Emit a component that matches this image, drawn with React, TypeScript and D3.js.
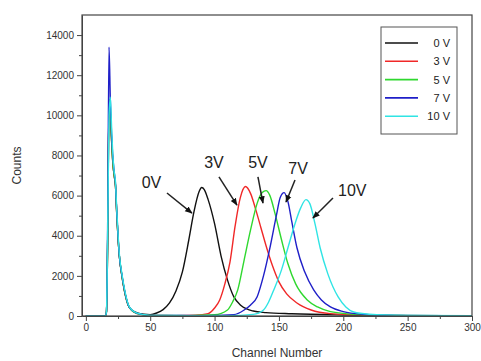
import React, { useEffect, useRef } from "react";
import * as d3 from "d3";

// [channel, counts]
const series0V: [number, number][] = [
  [0, 0], [15, 0], [16, 200], [17, 4000], [18, 10800], [19, 10200], [20, 8800], [21, 7600], [22, 7000],
  [23, 6500], [24, 5100], [25, 3900], [26, 3000], [28, 2000], [30, 1250], [33, 520], [36, 280], [40, 160],
  [45, 90], [50, 70], [55, 150], [60, 320], [65, 650], [70, 1250], [75, 2200], [80, 3800], [84, 5200],
  [88, 6200], [90, 6400], [92, 6300], [95, 5800], [100, 4600], [105, 3000], [110, 1800], [115, 950],
  [120, 550], [125, 350], [130, 250], [140, 170], [160, 110], [200, 50], [250, 20], [300, 10],
];

const series3V: [number, number][] = [
  [0, 0], [15, 0], [16, 200], [17, 4000], [18, 10500], [19, 10000], [20, 8700], [21, 7600], [22, 7000],
  [23, 6500], [24, 5100], [25, 3900], [26, 3000], [28, 2000], [30, 1250], [33, 520], [36, 260], [40, 120],
  [45, 60], [50, 30], [70, 20], [85, 40], [95, 120], [100, 400], [104, 800], [108, 1600], [112, 2700],
  [116, 4500], [120, 5900], [124, 6450], [128, 6100], [132, 5300], [136, 4400], [140, 3500], [145, 2500],
  [150, 1700], [156, 1100], [164, 650], [175, 300], [190, 120], [220, 40], [260, 15], [300, 5],
];

const series5V: [number, number][] = [
  [0, 0], [15, 0], [16, 200], [17, 4000], [18, 10600], [19, 10100], [20, 8700], [21, 7600], [22, 7000],
  [23, 6500], [24, 5100], [25, 3900], [26, 3000], [28, 2000], [30, 1250], [33, 520], [36, 260], [40, 120],
  [45, 60], [50, 30], [80, 20], [100, 60], [110, 300], [114, 700], [118, 1300], [123, 2800], [128, 4300],
  [133, 5600], [137, 6150], [140, 6250], [143, 6000], [147, 5100], [152, 3800], [157, 2600], [163, 1600],
  [172, 800], [180, 450], [190, 220], [210, 80], [240, 25], [300, 5],
];

const series7V: [number, number][] = [
  [0, 0], [15, 0], [16, 200], [17, 5000], [18, 13400], [19, 10800], [20, 9000], [21, 7900], [22, 7200],
  [23, 6600], [24, 5200], [25, 4000], [26, 3000], [28, 2050], [30, 1300], [33, 540], [36, 280], [40, 130],
  [45, 70], [50, 30], [90, 20], [115, 70], [123, 300], [128, 550], [133, 950], [138, 2000], [143, 3400],
  [148, 5000], [151, 5900], [154, 6150], [157, 5700], [160, 4700], [164, 3400], [170, 2200], [177, 1300],
  [183, 800], [190, 450], [200, 220], [215, 90], [240, 30], [300, 5],
];

const series10V: [number, number][] = [
  [0, 0], [15, 0], [16, 200], [17, 4500], [18, 10000], [19, 10900], [20, 9400], [21, 8000], [22, 7200],
  [23, 6700], [24, 5300], [25, 4100], [26, 3100], [28, 2100], [30, 1350], [33, 560], [36, 290], [40, 140],
  [45, 70], [50, 30], [110, 20], [130, 80], [138, 300], [142, 700], [146, 1300], [152, 2300], [157, 3400],
  [162, 4500], [167, 5400], [171, 5800], [174, 5600], [178, 4600], [182, 3400], [188, 2100], [196, 950],
  [202, 450], [208, 200], [220, 90], [250, 30], [300, 10],
];

const seriesNames = ["0 V", "3 V", "5 V", "7 V", "10 V"];
const seriesColors = ["#111111", "#f02828", "#2fd82f", "#1f1fc8", "#2fe4e4"];
const seriesData = [series0V, series3V, series5V, series7V, series10V];

// callout labels: [text, label channel, label counts, arrow start, arrow tip]
const callouts: [string, number, number, [number, number], [number, number]][] = [
  ["0V", 51, 6650, [63, 6130], [82.4, 5130]],
  ["3V", 99.5, 7670, [103.4, 6930], [117.4, 5530]],
  ["5V", 133.7, 7670, [133.7, 6930], [137.6, 5630]],
  ["7V", 164.9, 7330, [162.5, 6780], [155.5, 5680]],
  ["10V", 207, 6230, [192, 5880], [176.4, 4880]],
];

const xTicks = [0, 50, 100, 150, 200, 250, 300];
const yTicks = [0, 2000, 4000, 6000, 8000, 10000, 12000, 14000];

const W = 481;
const H = 361;

const App = () => {
  const svgRef = useRef<SVGSVGElement>(null);

  useEffect(() => {
    const margin = { top: 15, right: 9, bottom: 45, left: 82 };
    const svg = d3.select(svgRef.current);
    svg.selectAll("*").remove();

    const x = d3.scaleLinear().domain([-3, 300]).range([margin.left, W - margin.right]);
    const y = d3.scaleLinear().domain([0, 15000]).range([H - margin.bottom, margin.top]);

    const font = "Arial, 'Liberation Sans', sans-serif";

    svg
      .append("defs")
      .append("marker")
      .attr("id", "arrow")
      .attr("viewBox", "0 0 10 10")
      .attr("refX", 9)
      .attr("refY", 5)
      .attr("markerWidth", 5)
      .attr("markerHeight", 5)
      .attr("orient", "auto")
      .append("path")
      .attr("d", "M0,1 L10,5 L0,9 z")
      .attr("fill", "#111");

    // curves
    const line = d3
      .line<[number, number]>()
      .x((d) => x(d[0]))
      .y((d) => y(d[1]))
      .curve(d3.curveMonotoneX);

    seriesData.forEach((s, i) => {
      svg
        .append("path")
        .datum(s)
        .attr("d", line)
        .attr("fill", "none")
        .attr("stroke", seriesColors[i])
        .attr("stroke-width", 1.4);
    });

    // axes
    const xAxis = svg
      .append("g")
      .attr("transform", `translate(0,${y(0)})`)
      .call(d3.axisBottom(x).tickValues(xTicks).tickSize(5).tickSizeOuter(0).tickFormat(d3.format("d")));
    svg
      .append("g")
      .attr("transform", `translate(0,${y(0)})`)
      .call(d3.axisBottom(x).tickValues([25, 75, 125, 175, 225, 275]).tickSize(3).tickFormat(() => "").tickSizeOuter(0))
      .call((g) => g.select(".domain").remove());
    const yAxis = svg
      .append("g")
      .attr("transform", `translate(${margin.left},0)`)
      .call(d3.axisLeft(y).tickValues(yTicks).tickSize(5).tickSizeOuter(0).tickFormat(d3.format("d")));
    svg
      .append("g")
      .attr("transform", `translate(${margin.left},0)`)
      .call(d3.axisLeft(y).tickValues([1000, 3000, 5000, 7000, 9000, 11000, 13000]).tickSize(3).tickFormat(() => "").tickSizeOuter(0))
      .call((g) => g.select(".domain").remove());

    [xAxis, yAxis].forEach((g) => {
      g.selectAll("text").style("font-family", font).style("font-size", "10px").attr("fill", "#333");
      g.selectAll("line,path").attr("stroke", "#444");
    });
    svg.selectAll(".tick line").attr("stroke", "#444");

    // frame
    svg
      .append("rect")
      .attr("x", margin.left)
      .attr("y", margin.top)
      .attr("width", W - margin.right - margin.left)
      .attr("height", y(0) - margin.top)
      .attr("fill", "none")
      .attr("stroke", "#444")
      .attr("stroke-width", 1.2);

    // axis titles
    svg
      .append("text")
      .attr("x", (margin.left + W - margin.right) / 2)
      .attr("y", 357)
      .attr("text-anchor", "middle")
      .style("font-family", font)
      .style("font-size", "12px")
      .attr("fill", "#333")
      .text("Channel Number");
    svg
      .append("text")
      .attr("transform", "rotate(-90)")
      .attr("x", -(margin.top + y(0)) / 2)
      .attr("y", 21)
      .attr("text-anchor", "middle")
      .style("font-family", font)
      .style("font-size", "12px")
      .attr("fill", "#333")
      .text("Counts");

    // callouts
    callouts.forEach(([label, cx, cy, from, to]) => {
      svg
        .append("text")
        .attr("x", x(cx))
        .attr("y", y(cy))
        .attr("text-anchor", "middle")
        .attr("dominant-baseline", "central")
        .style("font-family", font)
        .style("font-size", "16px")
        .attr("fill", "#222")
        .text(label);
      svg
        .append("line")
        .attr("x1", x(from[0]))
        .attr("y1", y(from[1]))
        .attr("x2", x(to[0]))
        .attr("y2", y(to[1]))
        .attr("stroke", "#222")
        .attr("stroke-width", 1.5)
        .attr("marker-end", "url(#arrow)");
    });

    // legend
    const lg = svg.append("g");
    lg.append("rect")
      .attr("x", 381)
      .attr("y", 27)
      .attr("width", 76)
      .attr("height", 107)
      .attr("fill", "#fff")
      .attr("stroke", "#555")
      .attr("stroke-width", 1);
    seriesNames.forEach((name, i) => {
      const ly = 43 + i * 18.3;
      lg.append("line")
        .attr("x1", 385)
        .attr("x2", 418)
        .attr("y1", ly)
        .attr("y2", ly)
        .attr("stroke", seriesColors[i])
        .attr("stroke-width", 1.6);
      lg.append("text")
        .attr("x", 450)
        .attr("y", ly)
        .attr("text-anchor", "end")
        .attr("dominant-baseline", "central")
        .style("font-family", font)
        .style("font-size", "11px")
        .attr("fill", "#222")
        .text(name);
    });
  }, []);

  return (
    <div style={{ position: "absolute", left: 0, top: 0, background: "#fff" }}>
      <svg ref={svgRef} width={W} height={H} style={{ display: "block" }} />
    </div>
  );
};

export default App;
